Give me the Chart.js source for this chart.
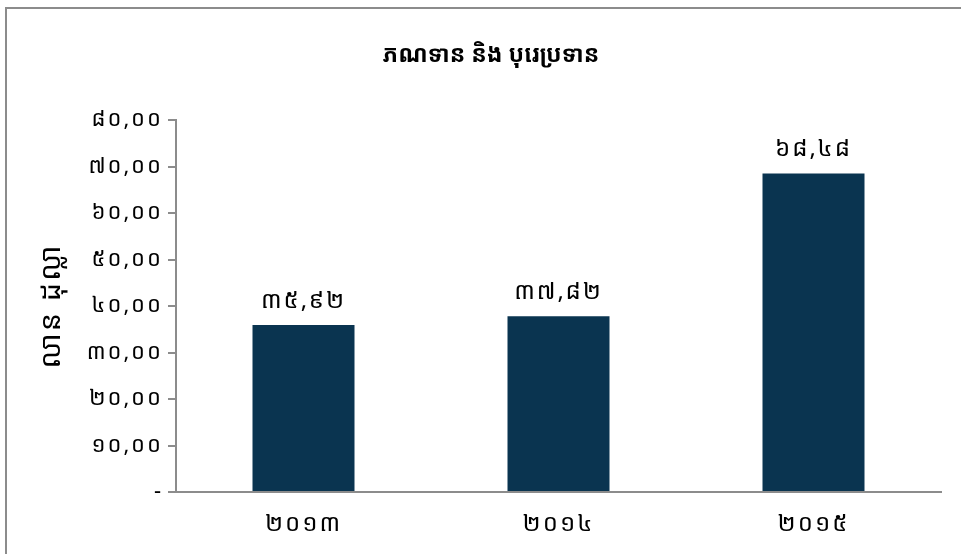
<!DOCTYPE html>
<html>
<head>
<meta charset="utf-8">
<script src="https://cdn.jsdelivr.net/npm/chart.js@4/dist/chart.umd.min.js"></script>
<style>
  body { margin: 0; background: #fff; }
  #wrap { position: relative; width: 961px; height: 554px; overflow: hidden; }
  #frame { position: absolute; left: 5px; top: 7px; width: 1000px; height: 600px; border: 2px solid #8c8c8c; }
  canvas { position: absolute; left: 0; top: 0; }
</style>
</head>
<body>
<div id="wrap">
  <div id="frame"></div>
  <canvas id="c" width="961" height="554"></canvas>
</div>
<script>
const years = ['2013', '2014', '2015'];
const values = [35.92, 37.82, 68.48];
const titleText = 'ភណទាន និង បុរេប្រទាន';
const yTitle = 'លាន ដុល្លា';

const khDigits = '០១២៣៤៥៦៧៨៩';
function kh(s) {
  return String(s).replace(/[0-9]/g, d => khDigits[d]);
}
function fmt(v) {
  return kh(v.toFixed(2).replace('.', ','));
}

const FONT = "'Noto Sans Khmer', 'Khmer OS', 'Noto Sans', sans-serif";

const labelPlugin = {
  id: 'barLabels',
  beforeDraw(chart) {
    chart.ctx.letterSpacing = '2px';
  },
  afterDatasetsDraw(chart) {
    const ctx = chart.ctx;
    ctx.save();
    ctx.font = '24px ' + FONT;
    ctx.letterSpacing = '2px';
    ctx.fillStyle = '#000';
    ctx.textAlign = 'center';
    ctx.textBaseline = 'bottom';
    chart.getDatasetMeta(0).data.forEach((bar, i) => {
      ctx.fillText(fmt(values[i]), bar.x, bar.y - 12);
    });
    ctx.restore();
  },
  afterDraw(chart) {
    const ctx = chart.ctx;
    ctx.save();
    ctx.font = 'bold 23px ' + FONT;
    ctx.letterSpacing = '0px';
    ctx.fillStyle = '#000';
    ctx.textAlign = 'center';
    ctx.textBaseline = 'middle';
    ctx.fillText(titleText, 491, 55);
    ctx.restore();
  }
};

new Chart(document.getElementById('c'), {
  type: 'bar',
  data: {
    labels: years.map(kh),
    datasets: [{
      data: values,
      backgroundColor: '#0a3450',
      categoryPercentage: 0.4,
      barPercentage: 1
    }]
  },
  options: {
    responsive: false,
    animation: false,
    layout: { padding: { left: 34, right: 20, top: 120, bottom: 0 } },
    plugins: { legend: { display: false }, tooltip: { enabled: false } },
    scales: {
      x: {
        grid: { display: false },
        border: { color: '#8c8c8c', width: 2 },
        ticks: { color: '#000', font: { size: 24, family: FONT }, padding: 10 },
        afterFit(s) { s.height = 62; }
      },
      y: {
        min: 0, max: 80,
        ticks: {
          stepSize: 10,
          color: '#000',
          padding: 5,
          font: { size: 22, family: FONT },
          callback: v => v === 0 ? '-' : fmt(v)
        },
        grid: { drawOnChartArea: false, tickLength: 8, color: '#8c8c8c', lineWidth: 2 },
        border: { color: '#8c8c8c', width: 2 },
        title: { display: true, text: yTitle, color: '#000', font: { size: 29, family: FONT }, padding: 0 },
        afterFit(s) { s.width = 142; }
      }
    }
  },
  plugins: [labelPlugin]
});
</script>
</body>
</html>
